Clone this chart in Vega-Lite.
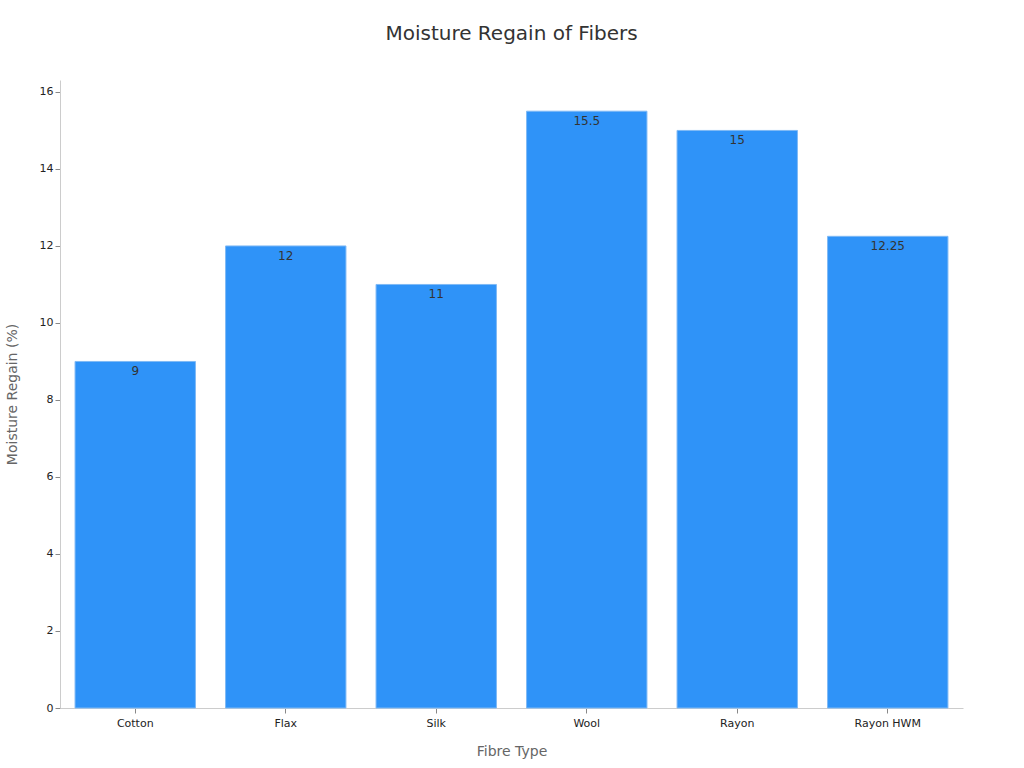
{
  "$schema": "https://vega.github.io/schema/vega-lite/v6.json",
  "autosize": "none",
  "padding": {"left": 60, "top": 80, "right": 61, "bottom": 60},
  "width": 903,
  "height": 628,
  "background": "white",
  "title": {
    "text": "Moisture Regain of Fibers",
    "fontSize": 20,
    "fontWeight": "normal",
    "font": "DejaVu Sans",
    "color": "#333333",
    "anchor": "middle",
    "offset": 36
  },
  "data": {
    "values": [
      {"fibre": "Cotton", "regain": 9},
      {"fibre": "Flax", "regain": 12},
      {"fibre": "Silk", "regain": 11},
      {"fibre": "Wool", "regain": 15.5},
      {"fibre": "Rayon", "regain": 15},
      {"fibre": "Rayon HWM", "regain": 12.25}
    ]
  },
  "config": {
    "view": {"stroke": null},
    "font": "DejaVu Sans",
    "axis": {
      "grid": false,
      "domainColor": "#cccccc",
      "tickColor": "#888888",
      "labelColor": "#222222",
      "labelFontSize": 11,
      "titleColor": "#666666",
      "titleFontSize": 14,
      "titleFontWeight": "normal"
    }
  },
  "encoding": {
    "x": {
      "field": "fibre",
      "type": "nominal",
      "sort": null,
      "title": "Fibre Type",
      "scale": {"paddingInner": 0.2, "paddingOuter": 0.1},
      "axis": {"labelAngle": 0, "titlePadding": 16, "labelPadding": 4, "tickSize": 5}
    },
    "y": {
      "field": "regain",
      "type": "quantitative",
      "title": "Moisture Regain (%)",
      "scale": {"domain": [0, 16.31], "nice": false},
      "axis": {"values": [0, 2, 4, 6, 8, 10, 12, 14, 16], "titlePadding": 20, "tickSize": 5}
    }
  },
  "layer": [
    {
      "mark": {"type": "bar", "color": "#2f93f8", "stroke": "#7fb9f5", "strokeWidth": 1}
    },
    {
      "mark": {"type": "text", "baseline": "top", "dy": 5, "fontSize": 12, "color": "#333333"},
      "encoding": {"text": {"field": "regain", "type": "quantitative"}}
    }
  ]
}
